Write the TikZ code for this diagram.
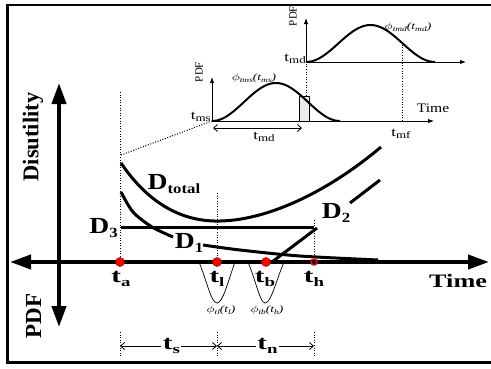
\documentclass[tikz,border=0pt]{standalone}
\usepackage{fontspec}
\setmainfont{Liberation Serif}
\usetikzlibrary{arrows.meta}
\newcommand{\Tl}[1]{\scalebox{1.45}[1]{\fontsize{20}{20}\selectfont\bfseries t\raisebox{-3.5pt}{\fontsize{13}{13}\selectfont #1}}}
\newcommand{\Dl}[1]{\scalebox{1.2}[1]{\fontsize{23}{23}\selectfont\bfseries D\raisebox{-4.5pt}{\fontsize{14}{14}\selectfont #1}}}
\newcommand{\tsm}[1]{\scalebox{1.3}[1]{\fontsize{13}{13}\selectfont t\raisebox{-2.5pt}{\fontsize{10}{10}\selectfont #1}}}
\newcommand{\phil}[2]{\scalebox{1.35}[1]{\fontsize{10}{10}\selectfont\itshape $\phi$\raisebox{-2pt}{\fontsize{7}{7}\selectfont #1}(t\raisebox{-2pt}{\fontsize{7}{7}\selectfont #2})}}
\tikzset{
  axis/.style={line width=4pt,{Triangle[length=21pt,width=14pt]}-{Triangle[length=21pt,width=14pt]}},
  curve/.style={line width=3pt},
  guide/.style={line width=1pt,dash pattern=on 1pt off 1.6pt},
  thinax/.style={line width=1pt,-{Latex[length=6pt,width=4.5pt]}},
  dimarr/.style={line width=0.8pt,{Straight Barb[length=4pt,width=7pt]}-{Straight Barb[length=4pt,width=7pt]}},
  bell/.style={line width=2pt},
  pdfb/.style={line width=0.7pt},
  dot/.style={fill=red,draw=red!70!black,line width=0.5pt},
  lbl/.style={inner sep=0pt},
}
\begin{document}
\begin{tikzpicture}[x=1pt,y=-1pt]
\useasboundingbox (0,0) rectangle (491,368);
\clip (0,0) rectangle (491,368);
% frame
\draw[line width=2.5pt] (7.5,5) rectangle (530,362.5);
% key coordinates
\coordinate (A) at (120,262);
\coordinate (L) at (217,262);
\coordinate (B) at (266,262);
\coordinate (H) at (314,262);
\coordinate (xl) at (10,262);
\coordinate (xr) at (489,262);
\coordinate (yu) at (59,83);
\coordinate (yd) at (59,327);
% guides
\draw[guide] (120,92) -- (A);
\draw[guide] (217,193) -- (L);
\draw[guide] (314,220) -- (H);
\draw[guide] (120,332) -- (120,358);
\draw[guide] (217,332) -- (217,358);
\draw[guide] (314,332) -- (314,358);
\draw[guide] (121,155) -- (212,121);
% curves
\draw[curve] (121,163) .. controls (150,206) and (185,222) .. (220,221) .. controls (270,220) and (330,190) .. (381,147);
\draw[curve] plot[smooth] coordinates {(121,192) (133,212) (152,227) (173,237)};
\draw[curve] plot[smooth] coordinates {(203,245) (240,250) (300,256) (378,260)};
\draw[curve] (121,227) -- (314,227);
\draw[curve] (272,262) -- (317,228);
\draw[curve] (350,203) -- (380,180);
% axes
\draw[axis] (xl) -- (xr);
\draw[axis] (yd) -- (yu);
% inverted pdfs
\draw[pdfb] (199,262) .. controls (207,281) and (211,303) .. (217,303) .. controls (223,303) and (228,281) .. (235,262);
\draw[pdfb] (248,262) .. controls (256,281) and (260,303) .. (265,303) .. controls (271,303) and (276,281) .. (284,262);
% points
\filldraw[dot] (A) circle (4.5);
\filldraw[dot] (L) circle (4.5);
\filldraw[dot] (B) circle (4.5);
\filldraw[fill=black,draw=red,line width=1.5pt] (H) circle (3);
% labels main
\node[rotate=90,font=\bfseries\fontsize{22.5}{22.5}\selectfont] (dis) at (33,137) {Disutility};
\node[rotate=90,font=\bfseries\fontsize{23}{23}\selectfont] (pdfbig) at (33.5,316) {PDF};
\node[lbl,anchor=west] (timebig) at (429,281) {\scalebox{1.38}[1]{\fontsize{19}{19}\selectfont\bfseries Time}};
\node[lbl] (lta) at (121,279) {\Tl{a}};
\node[lbl] (ltl) at (217,279) {\Tl{l}};
\node[lbl] (ltb) at (265,279) {\Tl{b}};
\node[lbl] (lth) at (314,279) {\Tl{h}};
\node[lbl] (dtot) at (174,184) {\Dl{total}};
\node[lbl,anchor=east] (d3) at (118,228) {\Dl{3}};
\node[lbl] (d1) at (189,243) {\Dl{1}};
\node[lbl] (d2) at (336,213) {\Dl{2}};
\node[lbl] (phl) at (221,310) {\phil{tl}{l}};
\node[lbl] (phb) at (267,310) {\phil{tb}{b}};
% dimensions
\coordinate (sa) at (120,346);
\coordinate (sl) at (217,346);
\coordinate (sh) at (314,346);
\draw[dimarr] (sa) -- node[pos=0.53,fill=white,inner sep=1.5pt] (ts) {\Tl{s}} (sl);
\draw[dimarr] (sl) -- node[pos=0.52,fill=white,inner sep=1.5pt] (tn) {\Tl{n}} (sh);
% inset 1
\coordinate (o1) at (212,121);
\fill[gray!15] (299,96) rectangle (309,121);
\draw[line width=0.8pt] (299,96) rectangle (309,121);
\draw[bell] plot[domain=0:128,samples=60] ({212+\x},{121-19*(1-cos(2.8125*\x))});
\draw[thinax] (o1) -- (212,77);
\draw[thinax] (o1) -- (434,121);
\draw[line width=0.8pt,{Straight Barb[length=4pt,width=7pt]}-{Straight Barb[length=4pt,width=7pt]}] (213,128) -- (302,128);
\node[lbl] (tmdl) at (264,137) {\tsm{md}};
\node[lbl,anchor=east] (tmsl) at (211,117) {\tsm{ms}};
\node[rotate=90,font=\fontsize{11}{11}\selectfont,lbl] (pdf1) at (199,72) {PDF};
\node[lbl] (phms) at (254,78) {\phil{tms}{ms}};
\node[lbl] (time1) at (433,108) {\scalebox{1.2}[1]{\fontsize{13}{13}\selectfont Time}};
\node[lbl] (tmf) at (401,134) {\tsm{mf}};
% inset 2
\coordinate (o2) at (306,62);
\draw[guide] (306,96) -- (o2);
\draw[guide] (402,42) -- (402,121);
\draw[bell] plot[domain=0:129,samples=60] ({306+\x},{62-18.5*(1-cos(2.7907*\x))});
\draw[thinax] (o2) -- (306,18);
\draw[thinax] (o2) -- (466,62);
\node[lbl,anchor=east] (tmd2) at (306,59) {\tsm{md}};
\node[rotate=90,font=\fontsize{11}{11}\selectfont,lbl] (pdf2) at (293,16) {PDF};
\node[lbl] (phmd) at (408,27) {\phil{tmd}{md}};
\end{tikzpicture}
\end{document}
